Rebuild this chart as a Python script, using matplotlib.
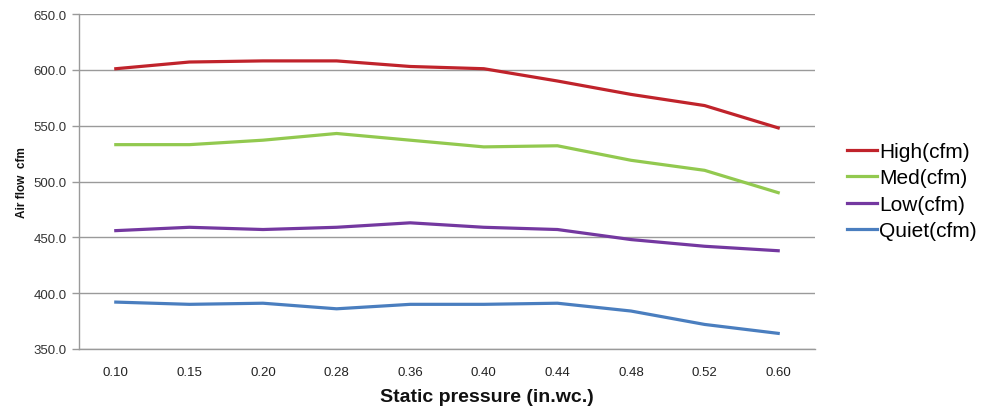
import matplotlib
matplotlib.use("Agg")
import matplotlib.pyplot as plt

pressures = ["0.10", "0.15", "0.20", "0.28", "0.36", "0.40", "0.44", "0.48", "0.52", "0.60"]
high = [601, 607, 608, 608, 603, 601, 590, 578, 568, 548]
med = [533, 533, 537, 543, 537, 531, 532, 519, 510, 490]
low = [456, 459, 457, 459, 463, 459, 457, 448, 442, 438]
quiet = [392, 390, 391, 386, 390, 390, 391, 384, 372, 364]
series_names = ["High(cfm)", "Med(cfm)", "Low(cfm)", "Quiet(cfm)"]
colors = ["#C0232B", "#92C94F", "#7438A0", "#4A7EBF"]

fig = plt.figure(figsize=(9.93, 4.10), dpi=100)
ax = fig.add_axes([79/993, 1-350/410, (815-79)/993, (350-15)/410])

x = list(range(len(pressures)))
for vals, name, c in zip([high, med, low, quiet], series_names, colors):
    ax.plot(x, vals, color=c, lw=2.3, label=name)

ax.set_xlim(-0.5, len(pressures) - 0.5)
ax.set_ylim(350, 650)
yt = [350, 400, 450, 500, 550, 600, 650]
ax.set_yticks(yt)
ax.set_yticklabels([f"{v:.1f}" for v in yt], fontsize=9.5, family="Liberation Sans", color="#333333")
ax.set_xticks(x)
ax.set_xticklabels(pressures, fontsize=9.5, family="Liberation Sans", color="#222222")
ax.tick_params(axis="x", length=0, pad=12)
ax.tick_params(axis="y", length=5, color="#9a9a9a", width=1, pad=4)
ax.grid(axis="y", color="#9a9a9a", lw=1)
ax.set_axisbelow(True)
for s in ["top", "right"]:
    ax.spines[s].set_visible(False)
for s in ["left", "bottom"]:
    ax.spines[s].set_color("#9a9a9a")
    ax.spines[s].set_linewidth(1)

ax.set_xlabel("Static pressure (in.wc.)", fontsize=14, family="Liberation Sans", fontweight="bold",
              color="#111111", labelpad=4)
ax.xaxis.set_label_coords((487 - 79) / 736, -0.115)
ax.set_ylabel("Air flow  cfm", fontsize=8.5, family="Liberation Sans", fontweight="bold",
              color="#111111", labelpad=4)

fig.legend(loc="upper left", bbox_to_anchor=(847/993, 1-143/410), frameon=False,
           handlelength=1.45, handletextpad=0.1, labelspacing=0.36, borderpad=0,
           borderaxespad=0, prop={"family": "Liberation Sans", "size": 15})

fig.savefig("out.png", dpi=100)
